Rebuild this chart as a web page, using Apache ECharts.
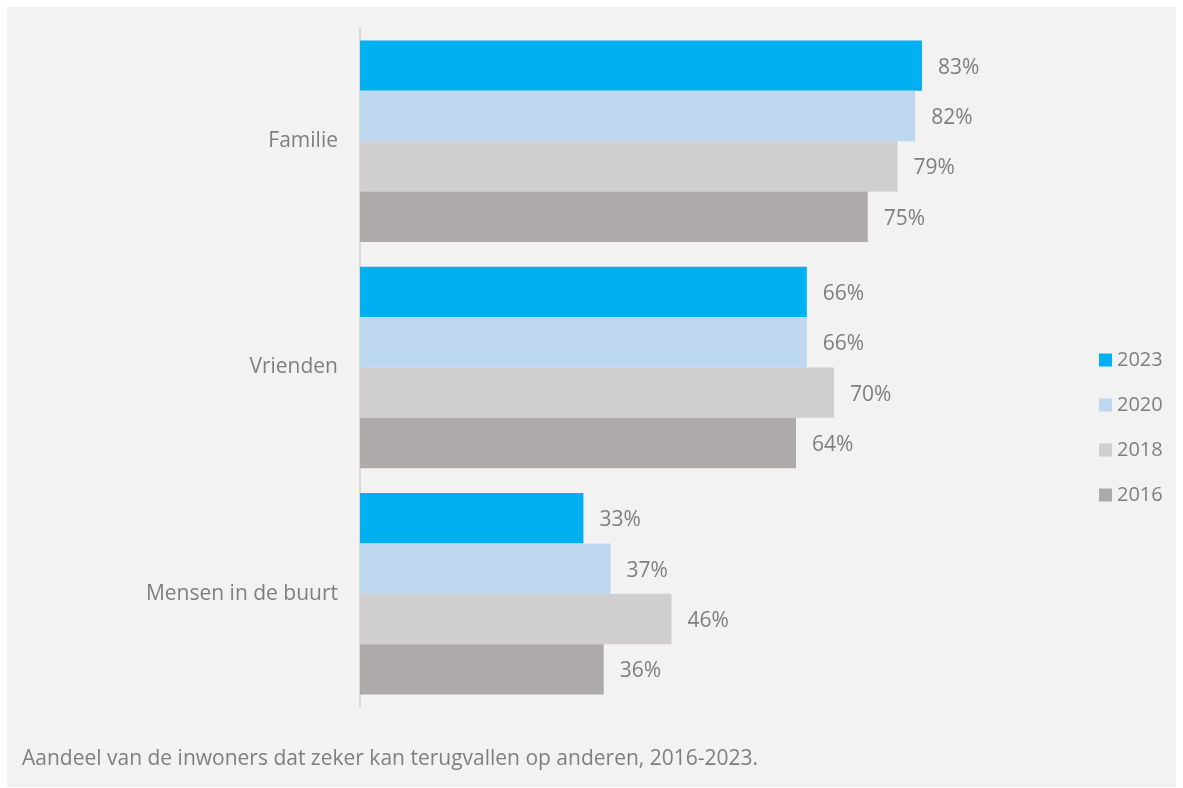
<!DOCTYPE html>
<html>
<head>
<meta charset="utf-8">
<script src="https://cdn.jsdelivr.net/npm/echarts@6/dist/echarts.min.js"></script>
<style>
html,body{margin:0;padding:0;background:#ffffff;}
#wrap{position:absolute;left:7px;top:7px;width:1169px;height:780px;background:#f2f2f2;}
#chart{width:1169px;height:780px;}
</style>
</head>
<body>
<div id="wrap"><div id="chart"></div></div>
<script>
const categories = ['Familie', 'Vrienden', 'Mensen in de buurt'];
const seriesNames = ['2023', '2020', '2018', '2016'];
const v2023 = [83, 66, 33];
const v2020 = [82, 66, 37];
const v2018 = [79.4, 70, 46];
const v2016 = [75, 64.4, 36];
const colors = ['#00b0f0', '#bdd7ee', '#d0cece', '#aeaaaa'];
const caption = 'Aandeel van de inwoners dat zeker kan terugvallen op anderen, 2016-2023.';

const values = [v2023, v2020, v2018, v2016];
const font = '"Open Sans", "Noto Sans", sans-serif';
const chart = echarts.init(document.getElementById('chart'));
chart.setOption({
  animation: false,
  textStyle: { fontFamily: font },
  grid: { left: 353, top: 21, width: 677, height: 679, containLabel: false },
  legend: {
    orient: 'vertical', left: 1087, top: 338, itemWidth: 13, itemHeight: 13,
    itemGap: 25, icon: 'rect',
    textStyle: { color: '#7f7f7f', fontSize: 20, fontFamily: font }
  },
  xAxis: { type: 'value', min: 0, max: 100, show: false },
  yAxis: {
    type: 'category', data: categories, inverse: true,
    axisLine: { show: true, lineStyle: { color: '#d9d9d9', width: 2 } },
    axisTick: { show: false },
    axisLabel: { color: '#7f7f7f', fontSize: 21, margin: 22, fontFamily: font }
  },
  graphic: [{
    type: 'text', left: 15, top: 742,
    style: { text: caption, fill: '#7f7f7f', fontSize: 21, fontFamily: font }
  }],
  series: seriesNames.map((n, i) => ({
    name: n, type: 'bar', data: values[i], barCategoryGap: '11%', barGap: '0%',
    itemStyle: { color: colors[i] },
    label: { show: true, position: 'right', distance: 16, offset: [0, 2],
      formatter: p => Math.round(p.value) + '%', color: '#7f7f7f', fontSize: 21, fontFamily: font }
  }))
});
</script>
</body>
</html>
